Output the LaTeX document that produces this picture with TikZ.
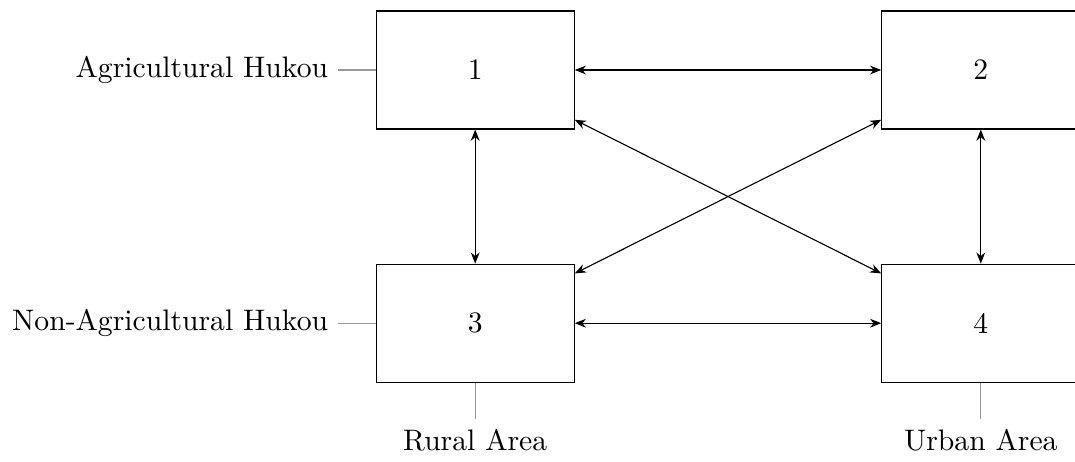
\documentclass[tikz,border=0pt]{standalone}
\usepackage{tikz}
\usetikzlibrary{arrows.meta,positioning}

\begin{document}
\begin{tikzpicture}[
  cell/.style={draw, minimum width=2.475cm, minimum height=1.475cm, inner sep=0pt, font=\fontsize{10.55}{12}\selectfont},
  tag/.style={font=\fontsize{10.55}{12}\selectfont},
  tagline/.style={draw=gray!80},
  >={Stealth[length=1.4mm,width=1.1mm]}]
\useasboundingbox (0,0) rectangle (13.4375,-5.7625);
% the four cells
\node[cell] (c1) at (5.94,-0.875) {1};
\node[cell] (c2) at (12.26,-0.875) {2};
\node[cell] (c3) at (5.94,-4.04) {3};
\node[cell] (c4) at (12.26,-4.04) {4};
% moves between cells
\foreach \a/\b in {c1/c2,c3/c4,c1/c3,c2/c4,c1/c4,c3/c2} {
  \draw[<->] (\a) -- (\b);
}
% row and column labels
\node[tag, anchor=east] (agri) at (4.225,-0.875) {Agricultural Hukou};
\node[tag, anchor=east] (nonagri) at (4.225,-4.04) {Non-Agricultural Hukou};
\node[tag, anchor=north] (rural) at (5.94,-5.24) {Rural Area};
\node[tag, anchor=north] (urban) at (12.26,-5.24) {Urban Area};
\draw[tagline] (agri.east) -- (c1.west);
\draw[tagline] (nonagri.east) -- (c3.west);
\draw[tagline] (c3.south) -- (rural.north);
\draw[tagline] (c4.south) -- (urban.north);
\end{tikzpicture}
\end{document}
